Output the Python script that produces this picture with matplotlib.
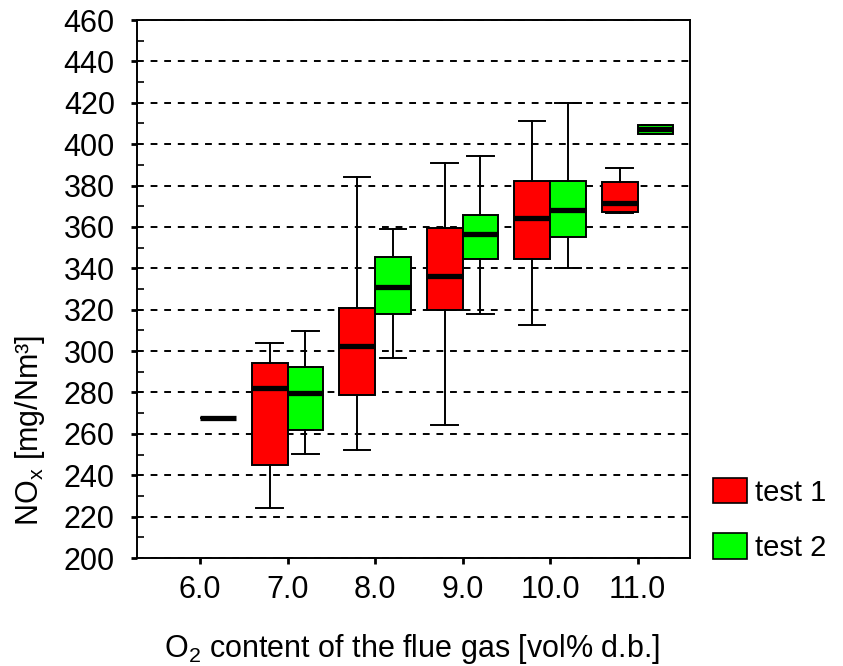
"""
Box plots of NOx emission against O2 content of the flue gas for two tests
"""

### Import modules
import numpy as np
import matplotlib
matplotlib.use('Agg')
import matplotlib.pyplot as plt
from matplotlib.patches import Patch
from matplotlib.transforms import ScaledTranslation

### Categories (O2 content, vol% d.b.)
o2_levels = ['6.0', '7.0', '8.0', '9.0', '10.0', '11.0']

### Test 1 box statistics [mg/Nm3] (no data at 6.0)
t1_whislo = [np.nan, 224.0, 252.0, 264.5, 312.5, 366.8]
t1_q1 = [np.nan, 245.0, 279.0, 320.0, 344.5, 367.2]
t1_med = [np.nan, 282.3, 302.5, 336.5, 364.5, 371.5]
t1_q3 = [np.nan, 294.0, 321.0, 359.5, 382.2, 381.5]
t1_whishi = [np.nan, 304.0, 384.0, 391.0, 411.0, 388.5]

### Test 2 box statistics [mg/Nm3]
t2_whislo = [267.5, 250.3, 296.5, 318.0, 340.0, 405.0]
t2_q1 = [267.5, 262.0, 318.0, 344.5, 355.0, 405.0]
t2_med = [267.5, 279.7, 331.0, 356.6, 368.0, 407.2]
t2_q3 = [267.5, 292.2, 345.5, 365.8, 382.2, 409.3]
t2_whishi = [267.5, 309.7, 359.0, 394.3, 419.8, 409.3]

### Build stats dicts for bxp
def makeStats(whislo, q1, med, q3, whishi):
    stats = []
    pos = []
    for i in range(len(med)):
        if np.isnan(med[i]):
            continue
        stats.append({'whislo': whislo[i], 'q1': q1[i], 'med': med[i],
                      'q3': q3[i], 'whishi': whishi[i], 'fliers': []})
        pos.append(i)
    return stats, np.array(pos)

stats1, pos1 = makeStats(t1_whislo, t1_q1, t1_med, t1_q3, t1_whishi)
stats2, pos2 = makeStats(t2_whislo, t2_q1, t2_med, t2_q3, t2_whishi)

###############################################################################
### Plot figure
plt.rcParams['font.family'] = ['Liberation Sans', 'DejaVu Sans']
plt.rcParams['mathtext.default'] = 'regular'

fig = plt.figure(figsize=(8.43, 6.66), dpi=100)
ax = fig.add_axes([137/843, 108/666, 553/843, 538/666])

offset = 0.205
width = 0.41
edge = dict(color='black', linewidth=1.4)
for stats, pos, col in [(stats1, pos1 - offset, '#ff0000'),
                        (stats2, pos2 + offset, '#00ff00')]:
    ax.bxp(stats, positions=pos, widths=width, capwidths=0.3,
           patch_artist=True, showfliers=False,
           boxprops=dict(facecolor=col, edgecolor='black', linewidth=1.4),
           medianprops=dict(color='black', linewidth=3.8),
           whiskerprops=edge, capprops=edge)

### Axes formatting
ax.set_xlim(-0.72, 5.6)
ax.set_ylim(200, 460)
ax.set_xticks(np.arange(len(o2_levels)))
ax.set_xticklabels(o2_levels, fontsize=22)
for lab in ax.get_xticklabels():
    lab.set_transform(lab.get_transform() +
                      ScaledTranslation(8/100, 0, fig.dpi_scale_trans))
ax.set_yticks(np.arange(200, 461, 20))
ax.set_yticks(np.arange(210, 460, 20), minor=True)
ax.tick_params(axis='y', labelsize=22)
ax.tick_params('both', which='major', direction='out', length=4, width=2)
ax.tick_params('x', which='major', pad=8)
ax.tick_params('y', which='major', pad=12)
ax.tick_params('y', which='minor', direction='in', length=5, width=1.2)
for sp in ax.spines.values():
    sp.set_linewidth(1.4)

ax.set_axisbelow(True)
ax.yaxis.grid(True, which='major', color='black', linewidth=1.4,
              linestyle=(0, (3.5, 3.5)))

### Axis labels
fig.text(30/843, 1 - 430/666, r'NO$_{x}$ [mg/Nm³]', rotation=90,
         ha='center', va='center', fontsize=22)
fig.text(412/843, 1 - 649/666, r'O$_{2}$ content of the flue gas [vol% d.b.]',
         ha='center', va='center', fontsize=22)

### Legend
handles = [Patch(facecolor='#ff0000', edgecolor='black', linewidth=1.2),
           Patch(facecolor='#00ff00', edgecolor='black', linewidth=1.2)]
fig.legend(handles, ['test 1', 'test 2'], loc='upper left',
           bbox_to_anchor=(713/843, 1 - 478/666), frameon=False,
           fontsize=21, handlelength=1.15, handleheight=0.95,
           handletextpad=0.3, labelspacing=0.92, borderpad=0,
           borderaxespad=0)

plt.savefig('out.png', dpi=100)
